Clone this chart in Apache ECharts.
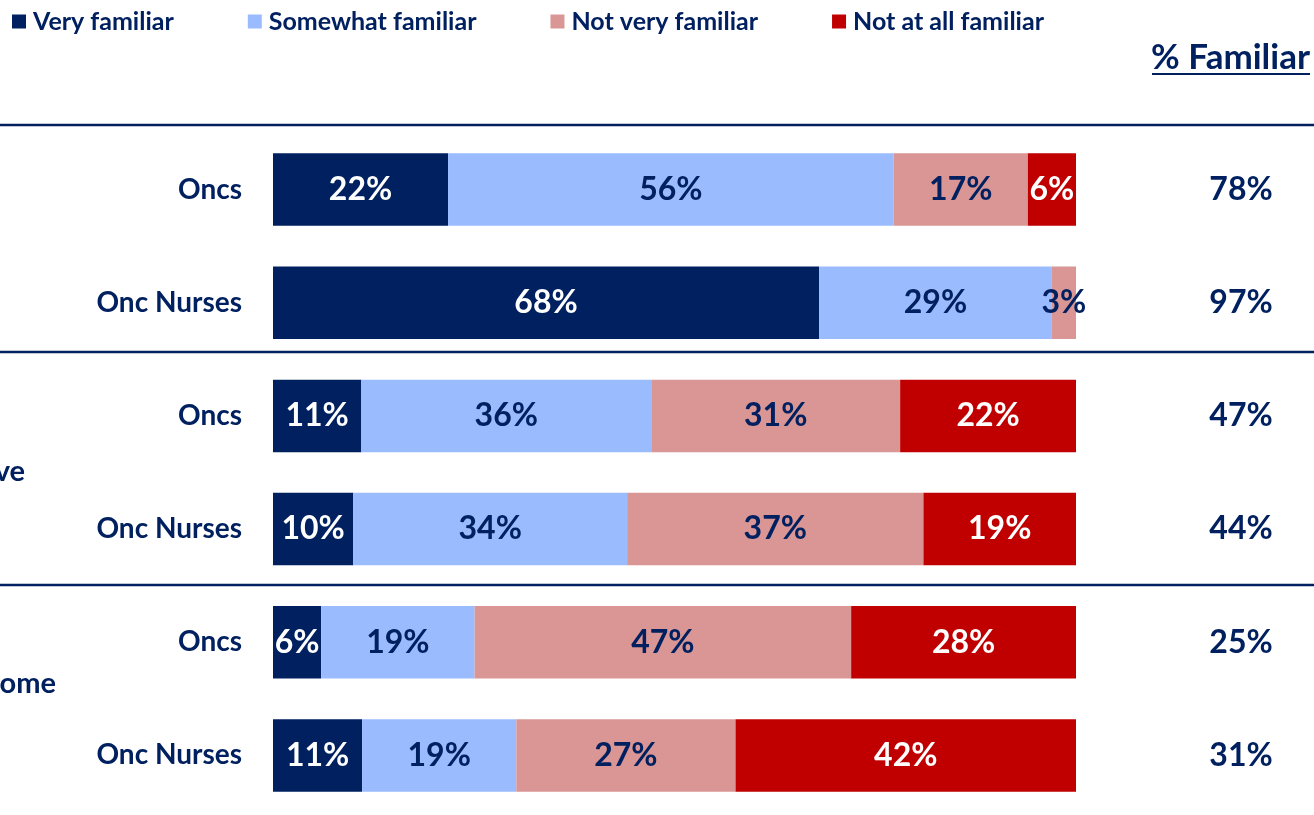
<!DOCTYPE html>
<html>
<head>
<meta charset="utf-8">
<script src="https://cdn.jsdelivr.net/npm/echarts@6/dist/echarts.min.js"></script>
<style>
  html, body { margin: 0; padding: 0; background: #fff; }
  #chart { width: 1314px; height: 815px; }
</style>
</head>
<body>
<div id="chart"></div>
<script>
var categories = ['Oncs', 'Onc Nurses', 'Oncs', 'Onc Nurses', 'Oncs', 'Onc Nurses']
// shares; labels show them rounded
var veryFamiliar = [21.8, 68.0, 11.0, 10.0, 6.0, 11.1]
var somewhatFamiliar = [55.5, 29.0, 36.1, 34.1, 19.1, 19.2]
var notVeryFamiliar = [16.7, 3.0, 31.0, 36.9, 46.9, 27.3]
var notAtAllFamiliar = [6.0, 0, 21.9, 19.0, 28.0, 42.4]
var pctFamiliar = ['78%', '97%', '47%', '44%', '25%', '31%']
var groupFragments = ['ve', 'ome'] // group labels are cut off at the left edge

var navy = '#002060'
var font = 'Lato, "Noto Sans", sans-serif'

function makeSeries(name, data, color, labelColor) {
  return {
    name: name,
    type: 'bar',
    stack: 'total',
    data: data,
    barCategoryGap: '36%',
    itemStyle: { color: color },
    label: {
      show: true,
      position: 'inside',
      color: labelColor,
      fontSize: 32,
      fontWeight: 'bold',
      fontFamily: font,
      formatter: function (p) {
        return p.value > 0 ? Math.round(p.value) + '%' : ''
      }
    }
  }
}

var chart = echarts.init(document.getElementById('chart'))
chart.setOption({
  animation: false,
  textStyle: { fontFamily: font },
  legend: {
    left: 7,
    top: 4,
    icon: 'rect',
    itemWidth: 14,
    itemHeight: 14,
    itemGap: 74,
    textStyle: { color: navy, fontSize: 25, fontWeight: 'bold', fontFamily: font, padding: [0, 0, 0, 2] }
  },
  grid: { left: 273, right: 238, top: 133, bottom: 3 },
  xAxis: {
    type: 'value',
    min: 0,
    max: 100,
    show: false
  },
  yAxis: [{
    type: 'category',
    inverse: true,
    data: categories,
    axisLine: { show: false },
    axisTick: { show: false },
    axisLabel: {
      margin: 31,
      color: navy,
      fontSize: 28,
      fontWeight: 'bold',
      fontFamily: font
    }
  }, {
    type: 'category',
    inverse: true,
    position: 'right',
    data: pctFamiliar,
    axisLine: { show: false },
    axisTick: { show: false },
    axisLabel: {
      margin: 165,
      align: 'center',
      color: navy,
      fontSize: 32,
      fontWeight: 'bold',
      fontFamily: font
    }
  }],
  series: [
    makeSeries('Very familiar', veryFamiliar, navy, '#ffffff'),
    makeSeries('Somewhat familiar', somewhatFamiliar, '#9BBBFF', navy),
    makeSeries('Not very familiar', notVeryFamiliar, '#D99694', navy),
    makeSeries('Not at all familiar', notAtAllFamiliar, '#C00000', '#ffffff')
  ],
  graphic: [
    { type: 'line', shape: { x1: 0, y1: 125, x2: 1314, y2: 125 }, style: { stroke: navy, lineWidth: 2.5 } },
    { type: 'line', shape: { x1: 0, y1: 352, x2: 1314, y2: 352 }, style: { stroke: navy, lineWidth: 2.5 } },
    { type: 'line', shape: { x1: 0, y1: 585, x2: 1314, y2: 585 }, style: { stroke: navy, lineWidth: 2.5 } },
    {
      type: 'text', right: 4, top: 40,
      style: { text: '% Familiar', fill: navy, font: 'bold 35px ' + font }
    },
    { type: 'line', shape: { x1: 1152, y1: 74, x2: 1310, y2: 74 }, style: { stroke: navy, lineWidth: 2 } },
    {
      type: 'text', x: 25, y: 472,
      style: { text: groupFragments[0], fill: navy, font: 'bold 29px ' + font, align: 'right', verticalAlign: 'middle' }
    },
    {
      type: 'text', x: 56, y: 684,
      style: { text: groupFragments[1], fill: navy, font: 'bold 29px ' + font, align: 'right', verticalAlign: 'middle' }
    }
  ]
})
</script>
</body>
</html>
